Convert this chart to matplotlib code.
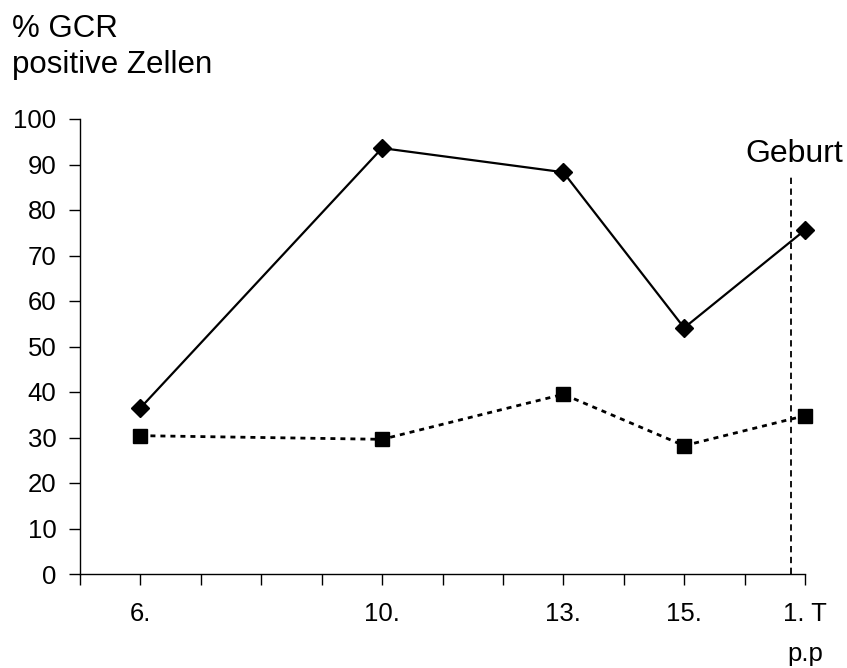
import matplotlib
matplotlib.use("Agg")
import matplotlib.pyplot as plt

plt.rcParams['font.family'] = ['Liberation Sans', 'DejaVu Sans']

# data
week_labels = ['6.', '10.', '13.', '15.', '1. T\np.p']
week_pos = [6, 10, 13, 15, 17]
gcr_solid = [36.5, 93.6, 88.3, 54.1, 75.6]
gcr_dashed = [30.4, 29.6, 39.5, 28.2, 34.8]
birth_x = 16.77
birth_top = 88

fig = plt.figure(figsize=(8.47, 6.68), dpi=100)
ax = fig.add_axes([80/847, 1-574/668, (805-80)/847, (574-119)/668])

ax.plot(week_pos, gcr_solid, color='black', lw=1.6, marker='D', ms=9,
        clip_on=False, zorder=3)
ax.plot(week_pos, gcr_dashed, color='black', lw=2.0, ls=(0, (1.8, 1.8)),
        marker='s', ms=10, clip_on=False, zorder=3)

ax.plot([birth_x, birth_x], [0, birth_top], color='black', lw=1.3,
        ls=(0, (3.5, 2.5)), clip_on=False)
ax.text(birth_x + 0.05, 90.5, 'Geburt', ha='center', va='baseline', fontsize=23)

ax.set_xlim(5, 17)
ax.set_ylim(0, 100)
ax.set_xticks(range(5, 18))
ax.set_xticklabels(['' if i not in week_pos else week_labels[week_pos.index(i)]
                    for i in range(5, 18)], linespacing=1.85)
ax.set_yticks(range(0, 101, 10))

for s in ['top', 'right']:
    ax.spines[s].set_visible(False)
for s in ['left', 'bottom']:
    ax.spines[s].set_linewidth(1.0)

ax.tick_params(axis='y', direction='out', length=8, width=1, pad=9, labelsize=18.5)
ax.tick_params(axis='x', direction='out', length=8, width=1, pad=12, labelsize=18.5)

fig.text(12/847, 1-37/668, '% GCR', ha='left', va='baseline', fontsize=22.5)
fig.text(12/847, 1-73/668, 'positive Zellen', ha='left', va='baseline', fontsize=22.5)

fig.savefig('out.png', dpi=100)
